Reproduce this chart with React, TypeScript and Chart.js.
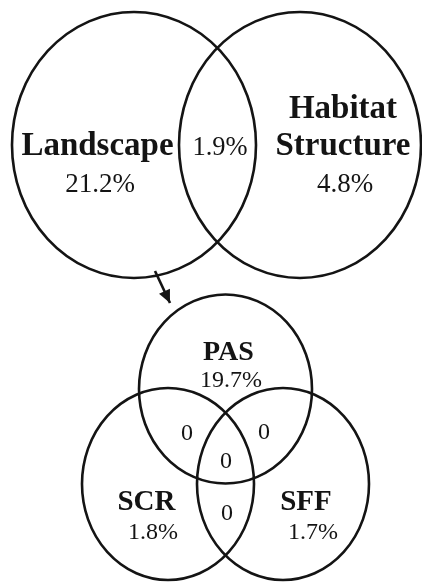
import { useEffect, useRef } from 'react';
import { Chart, registerables } from 'chart.js';

Chart.register(...registerables);

// ---- Data ----
// Sets (circles) of the two Venn diagrams
const setNames = ['Landscape', 'Habitat Structure', 'PAS', 'SCR', 'SFF'];
const setValues = ['21.2%', '4.8%', '19.7%', '1.8%', '1.7%'];
// Circle geometry in diagram units (centre x, centre y, radius x, radius y)
const circleCx = [134, 300, 225.5, 168, 283];
const circleCy = [145, 145, 389, 484, 484];
const circleRx = [122, 121, 86.5, 86, 86];
const circleRy = [133, 133, 94.5, 96, 96];
// Overlap regions
const overlapLabels = ['1.9%', '0', '0', '0', '0'];
const overlapX = [220, 187, 264, 226, 227];
const overlapY = [155, 440, 439, 468, 520];
const overlapSize = [26.5, 24, 24, 24, 24];
// Name label anchors (one line per entry)
const nameLines = [['Landscape'], ['Habitat', 'Structure'], ['PAS'], ['SCR'], ['SFF']];
const nameX = [97.5, 343, 228.5, 146.5, 306];
const nameY = [[155], [118, 155], [360], [510], [510]];
const nameSize = [33, 33, 28, 29, 29];
const valueX = [100, 345, 231, 153, 313];
const valueY = [192, 192, 387, 539, 539];
const valueSize = [27, 27, 24, 24, 24];
// Arrow from Landscape to the sub-diagram
const arrowX = [155, 170];
const arrowY = [271, 303];

const INK = '#141414';
const SERIF = '"Liberation Serif", "Times New Roman", serif';

export default function App() {
  const ref = useRef<HTMLCanvasElement>(null);

  useEffect(() => {
    document.body.style.margin = '0';
    const canvas = ref.current;
    if (!canvas) return;

    const vennPlugin = {
      id: 'venn',
      afterDatasetsDraw(chart: any) {
        const ctx = chart.ctx;
        const xs = chart.scales.x;
        const ys = chart.scales.y;
        const px = (v: number) => xs.getPixelForValue(v);
        const py = (v: number) => ys.getPixelForValue(v);
        const sx = (v: number) => Math.abs(xs.getPixelForValue(v) - xs.getPixelForValue(0));
        const sy = (v: number) => Math.abs(ys.getPixelForValue(v) - ys.getPixelForValue(0));
        ctx.save();
        ctx.strokeStyle = INK;
        ctx.fillStyle = INK;
        ctx.lineWidth = 2.6;
        // circles
        for (let i = 0; i < circleCx.length; i++) {
          ctx.beginPath();
          ctx.ellipse(px(circleCx[i]), py(circleCy[i]), sx(circleRx[i]), sy(circleRy[i]), 0, 0, Math.PI * 2);
          ctx.stroke();
        }
        // arrow head
        const x0 = px(arrowX[0]), y0 = py(arrowY[0]);
        const x1 = px(arrowX[1]), y1 = py(arrowY[1]);
        const ang = Math.atan2(y1 - y0, x1 - x0);
        const hl = 13, hw = 6;
        ctx.beginPath();
        ctx.moveTo(x1, y1);
        ctx.lineTo(x1 - hl * Math.cos(ang) + hw * Math.sin(ang), y1 - hl * Math.sin(ang) - hw * Math.cos(ang));
        ctx.lineTo(x1 - hl * Math.cos(ang) - hw * Math.sin(ang), y1 - hl * Math.sin(ang) + hw * Math.cos(ang));
        ctx.closePath();
        ctx.fill();
        // text
        ctx.textAlign = 'center';
        ctx.textBaseline = 'alphabetic';
        for (let i = 0; i < setNames.length; i++) {
          ctx.font = `bold ${nameSize[i]}px ${SERIF}`;
          nameLines[i].forEach((line, j) => {
            ctx.fillText(line, px(nameX[i]), py(nameY[i][j]));
          });
          ctx.font = `${valueSize[i]}px ${SERIF}`;
          ctx.fillText(setValues[i], px(valueX[i]), py(valueY[i]));
        }
        for (let i = 0; i < overlapLabels.length; i++) {
          ctx.font = `${overlapSize[i]}px ${SERIF}`;
          ctx.fillText(overlapLabels[i], px(overlapX[i]), py(overlapY[i]));
        }
        ctx.restore();
      },
    };

    const chart = new Chart(canvas, {
      type: 'scatter',
      data: {
        datasets: [
          {
            label: 'centres',
            data: circleCx.map((x, i) => ({ x, y: circleCy[i] })),
            pointRadius: 0,
            showLine: false,
          },
          {
            label: 'arrow',
            data: arrowX.map((x, i) => ({ x, y: arrowY[i] })),
            showLine: true,
            borderColor: INK,
            borderWidth: 2.6,
            pointRadius: 0,
          },
        ],
      },
      options: {
        animation: false,
        responsive: false,
        devicePixelRatio: 1,
        layout: { padding: 0 },
        plugins: { legend: { display: false }, tooltip: { enabled: false } },
        scales: {
          x: { type: 'linear', min: 0, max: 422, display: false },
          y: { type: 'linear', min: 0, max: 586, reverse: true, display: false },
        },
      },
      plugins: [vennPlugin],
    });
    return () => chart.destroy();
  }, []);

  return (
    <div style={{ width: 422, height: 586, background: '#fff' }}>
      <canvas ref={ref} width={422} height={586} style={{ display: 'block' }} />
    </div>
  );
}
